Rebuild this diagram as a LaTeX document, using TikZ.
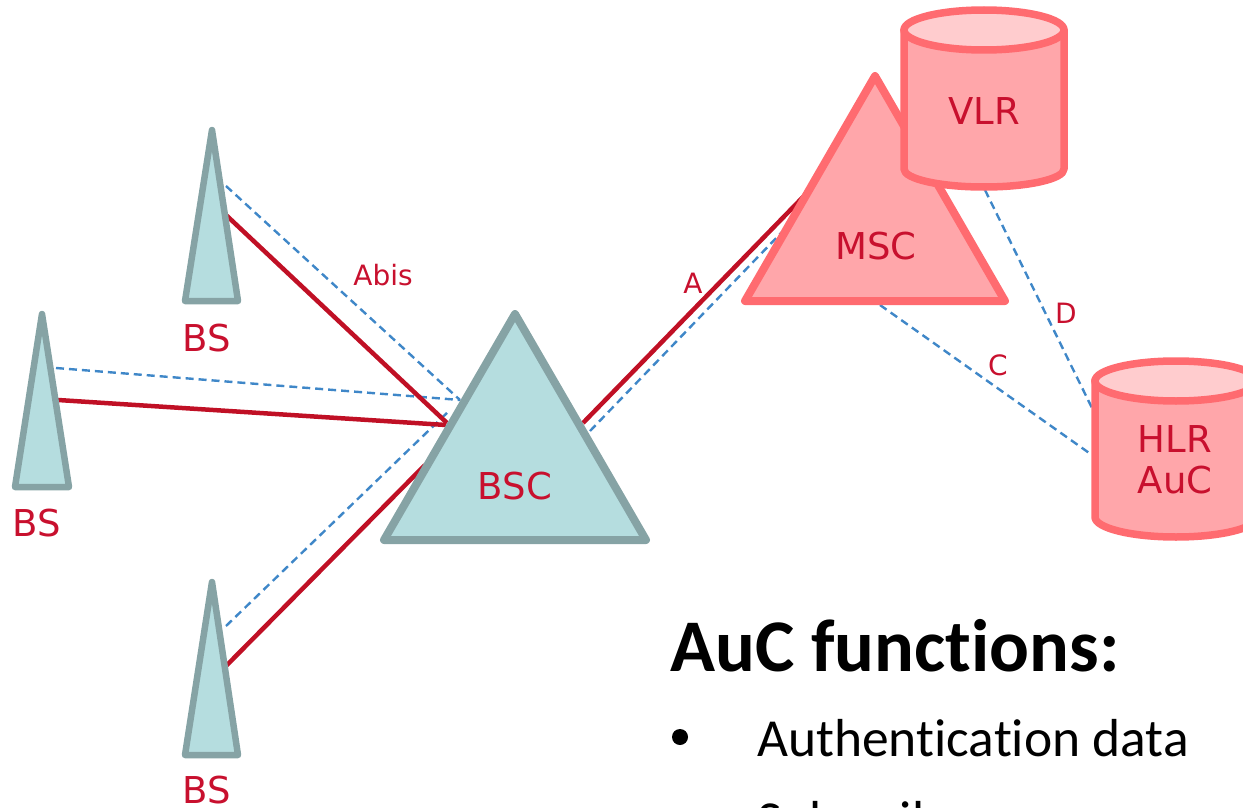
\documentclass[tikz,border=0pt]{standalone}
\usepackage{fontspec}
\setmainfont{DejaVu Sans}
\newfontfamily\calfam[Ligatures=NoCommon]{Carlito}
\definecolor{tealfill}{HTML}{B5DDDF}
\definecolor{tealline}{HTML}{86A3A5}
\definecolor{pinkfill}{HTML}{FFA6AA}
\definecolor{pinkline}{HTML}{FF6B70}
\definecolor{pinktop}{HTML}{FFCCCE}
\definecolor{lab}{HTML}{C8102E}
\definecolor{wire}{HTML}{C01025}
\definecolor{dashc}{HTML}{3F87C8}
\tikzset{
 x=1pt,y=-1pt,
 tower/.style={draw=tealline,fill=tealfill,line width=6.5pt,line join=round},
 bsc/.style={draw=tealline,fill=tealfill,line width=8pt,line join=round},
 msc/.style={draw=pinkline,fill=pinkfill,line width=8pt,line join=round},
 can/.style={draw=pinkline,fill=pinkfill,line width=7.5pt,line join=round},
 cantop/.style={draw=pinkline,fill=pinktop,line width=7.5pt},
 wirel/.style={draw=wire,line width=4.5pt},
 dashl/.style={draw=dashc,line width=2.4pt,dash pattern=on 8pt off 5pt},
 lbl/.style={text=lab,font=\fontsize{37}{39}\selectfont,inner sep=0pt,align=center},
 small/.style={text=lab,font=\fontsize{28}{30}\selectfont,inner sep=0pt},
}
\begin{document}
\begin{tikzpicture}
\useasboundingbox (0,0) rectangle (1243,808);
\clip (0,0) rectangle (1243,808);
% connector end points
\coordinate (t1r) at (226,215); \coordinate (t1d) at (226,186);
\coordinate (t2r) at (58,400);  \coordinate (t2d) at (56,368);
\coordinate (t3r) at (226,666); \coordinate (t3d) at (226,626);
\coordinate (bA) at (447,423); \coordinate (bB) at (460,400); \coordinate (bC) at (450,410);
\coordinate (bD) at (446,425); \coordinate (bE) at (425,465);
\coordinate (bmR) at (583,423); \coordinate (bmD) at (590,431);
\coordinate (mL) at (805,195); \coordinate (mD) at (782,232);
\coordinate (mB) at (880,305); \coordinate (vB) at (985,190);
\coordinate (hA) at (1092,408); \coordinate (hB) at (1092,455);
% connectors
\draw[dashl] (t1d) -- (bB);
\draw[dashl] (t2d) -- (bB);
\draw[dashl] (t3d) -- (bC);
\draw[wirel] (t1r) -- (bA);
\draw[wirel] (t2r) -- (bD);
\draw[wirel] (t3r) -- (bE);
\draw[dashl] (bmD) -- (mD);
\draw[wirel] (bmR) -- (mL);
\draw[dashl] (mB) -- (hB);
\draw[dashl] (vB) -- (hA);
% towers
\path[tower] (212,130) -- (238,301) -- (185,301) -- cycle;
\path[tower] (42,314) -- (69,487) -- (15,487) -- cycle;
\path[tower] (212,582) -- (238,755) -- (185,755) -- cycle;
% BSC, MSC
\path[bsc] (515,314) -- (646,540) -- (384,540) -- cycle;
\path[msc] (875,76) -- (1005,301) -- (745,301) -- cycle;
% VLR
\path[can] (904,30) -- (904,169) arc[start angle=180,end angle=360,x radius=80,y radius=-18] -- (1064,30) -- cycle;
\path[cantop] (984,30) ellipse[x radius=80,y radius=20];
% HLR
\path[can] (1095,380) -- (1095,517) arc[start angle=180,end angle=360,x radius=81,y radius=-20] -- (1257,380) -- cycle;
\path[cantop] (1176,381) ellipse[x radius=81,y radius=20];
% labels
\node[lbl] (nbs1) at (207,338) {BS};
\node[lbl] (nbs2) at (37,523) {BS};
\node[lbl] (nbs3) at (207,790) {BS};
\node[lbl] (nbsc) at (515,486) {BSC};
\node[lbl] (nmsc) at (876,246) {MSC};
\node[lbl] (nvlr) at (984,111) {VLR};
\node[lbl] (nhlr) at (1175,460) {HLR\\[2pt]AuC};
\node[small] (nabis) at (383,275) {Abis};
\node[small] (na) at (693,283) {A};
\node[small] (nc) at (998,365) {C};
\node[small] (nd) at (1066,313) {D};
% text
\node[anchor=base west,inner sep=0pt,font=\calfam\bfseries\fontsize{74.3}{76}\selectfont] (head) at (670,671) {AuC functions:};
\node[anchor=base west,inner sep=0pt,font=\calfam\fontsize{53.5}{56}\selectfont] (b1) at (757,756) {Authentication data};
\node[anchor=base west,inner sep=0pt,font=\calfam\fontsize{53.5}{56}\selectfont] (b2) at (757,838) {Subscriber};
\fill (680,737) circle[radius=8];
\fill (680,818) circle[radius=8];
\end{tikzpicture}
\end{document}
